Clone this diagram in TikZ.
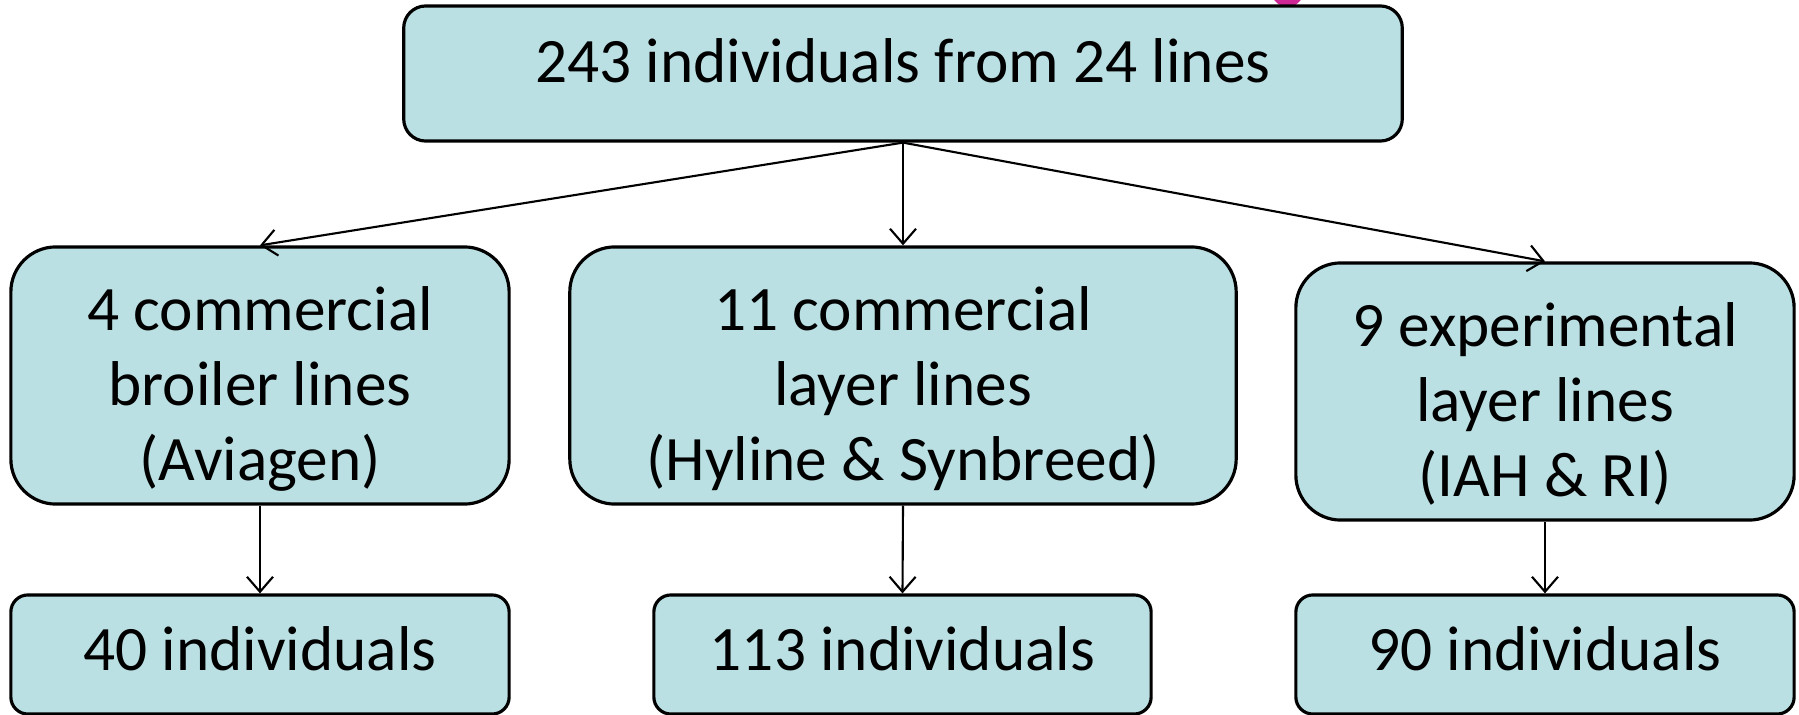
\documentclass[tikz,border=0pt]{standalone}
\usepackage{fontspec}
\setmainfont{Carlito}
\usepackage{xcolor}
\usetikzlibrary{arrows.meta}
\definecolor{boxfill}{RGB}{186,224,227}
\definecolor{penpink}{RGB}{205,40,150}

\begin{document}
\begin{tikzpicture}[x=0.01cm,y=-0.01cm,
	box/.style={draw=black,line width=0.9pt,fill=boxfill,align=center,inner sep=0pt,
		font=\fontsize{18}{21.3}\selectfont},
	groupbox/.style={box,rounded corners=0.45cm,minimum width=4.98cm,minimum height=2.57cm,
		text height=2.33cm,text depth=0.24cm},
	countbox/.style={box,rounded corners=0.17cm,minimum width=4.98cm,minimum height=1.19cm,
		text height=0.75cm,text depth=0.44cm},
	linkarrow/.style={-{Straight Barb[length=1.5mm,width=2.6mm]},line width=0.6pt}]
				\useasboundingbox (0,0) rectangle (1799,715);
				% stray pen mark at the top
				\draw[penpink,line width=2pt,line cap=round] (1277,-2) .. controls (1284,6) and (1292,5) .. (1298,-2);
				% top box
				\node[box,rounded corners=0.22cm,minimum width=9.98cm,minimum height=1.35cm,
					text height=0.76cm,text depth=0.59cm] (all) at (903,73.5) {243 individuals from 24 lines};
				% line groups
				\node[groupbox] (broiler) at (260,375.5) {4 commercial\\broiler lines\\(Aviagen)};
				\node[groupbox,minimum width=6.66cm] (layer) at (903,375.5) {11 commercial\\layer lines\\(Hyline \& Synbreed)};
				\node[groupbox] (exper) at (1545,391.5) {9 experimental\\layer lines\\(IAH \& RI)};
				% counts
				\node[countbox] (nbroiler) at (260,654.5) {40 individuals};
				\node[countbox,minimum width=4.97cm] (nlayer) at (902.5,654.5) {113 individuals};
				\node[countbox] (nexper) at (1545,654.5) {90 individuals};
				% arrows
				\draw[linkarrow] (all.south) -- (broiler.north);
				\draw[linkarrow] (all.south) -- (layer.north);
				\draw[linkarrow] (all.south) -- (exper.north);
				\draw[linkarrow] (broiler.south) -- (nbroiler.north);
				\draw[linkarrow] (layer.south) -- (nlayer.north);
				\draw[linkarrow] (exper.south) -- (nexper.north);
			\end{tikzpicture}
\end{document}
